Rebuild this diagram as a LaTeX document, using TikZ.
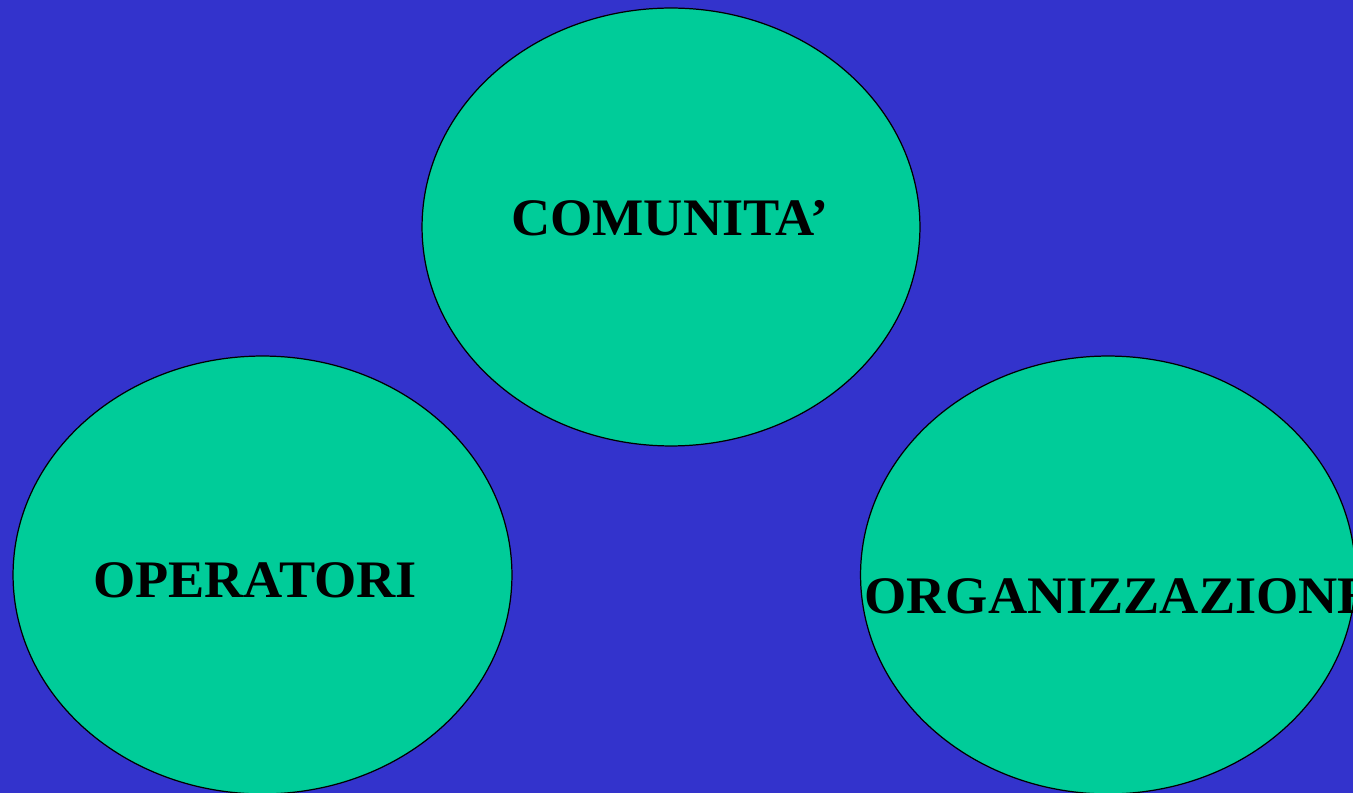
\documentclass[tikz,border=0pt]{standalone}
\usepackage{fontspec}
\setmainfont{Liberation Serif}
\usetikzlibrary{shapes.geometric}
\definecolor{bgblue}{HTML}{3333CC}
\definecolor{blobgreen}{HTML}{00CC99}
\tikzset{
    blob/.style={ellipse,draw=black,line width=0.7pt,fill=blobgreen,inner sep=0pt},
    word/.style={font=\fontsize{30}{36}\selectfont\bfseries,text=black,inner sep=0pt,anchor=base}
}
\def\wide#1{\scalebox{1.03}[1]{#1}}

\begin{document}
\begin{tikzpicture}[x=0.02cm,y=-0.02cm]
\useasboundingbox (0,0) rectangle (1353,793);
\clip (0,0) rectangle (1353,793);
\fill[bgblue] (0,0) rectangle (1353,793);

    % three circles
    \node[blob,minimum width=9.96cm,minimum height=8.76cm] (comunita) at (671,227) {};
    \node[blob,minimum width=9.98cm,minimum height=8.76cm] (operatori) at (262.5,575) {};
    \node[blob,minimum width=9.90cm,minimum height=8.76cm] (organizzazione) at (1108,575) {};

    % labels
    \node[word] (tcomunita) at (670,236) {\wide{COMUNITA’}};
    \node[word] (toperatori) at (255,598) {\wide{OPERATORI}};
    \node[word,anchor=base west] (torganizzazione) at (864,614) {\wide{ORGANIZZAZIONE}};

\end{tikzpicture}
\end{document}
